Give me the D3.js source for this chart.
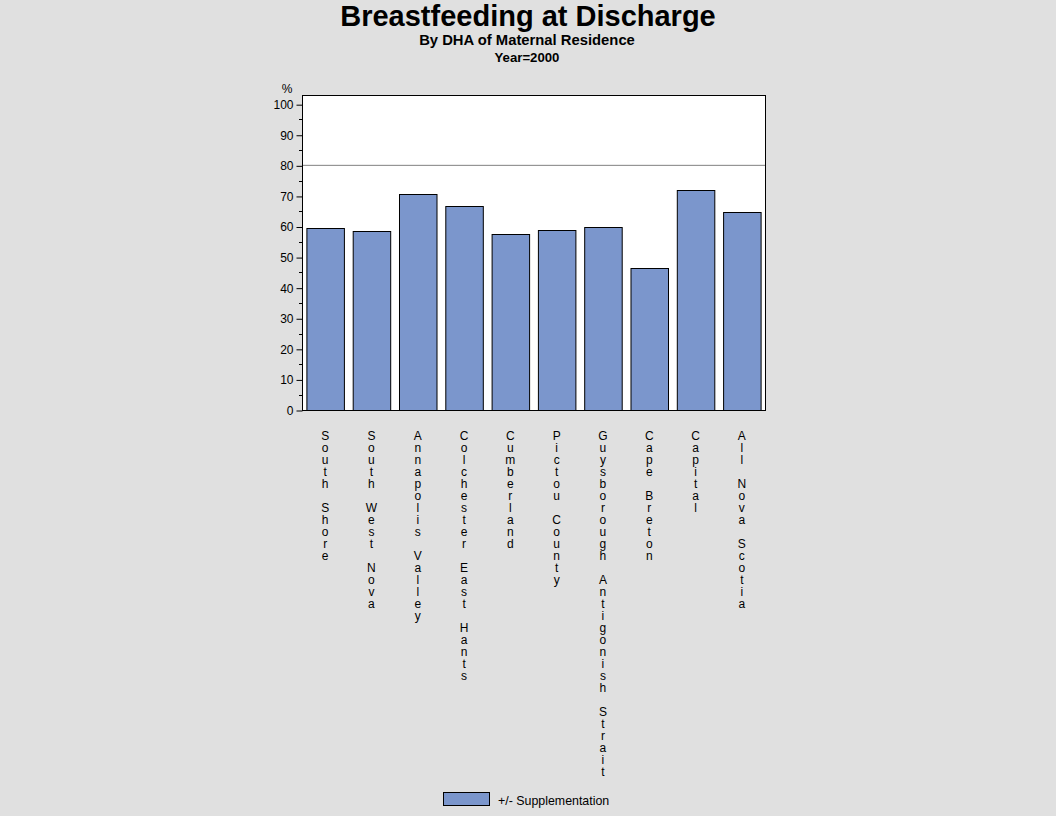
<!DOCTYPE html>
<html>
<head>
<meta charset="utf-8">
<script src="https://cdn.jsdelivr.net/npm/d3@7"></script>
<style>
  body { margin: 0; background: #e0e0e0; }
  svg { display: block; font-family: "Liberation Sans", Arial, sans-serif; }
</style>
</head>
<body>
<div id="chart"></div>
<script>
// Data
const districts = [
    "South Shore", "South West Nova", "Annapolis Valley", "Colchester East Hants",
    "Cumberland", "Pictou County", "Guysborough Antigonish Strait", "Cape Breton",
    "Capital", "All Nova Scotia"
];
const percents = [59.4, 58.4, 70.5, 66.6, 57.7, 58.7, 59.7, 46.4, 72.1, 64.9];
const yTicks = [0, 10, 20, 30, 40, 50, 60, 70, 80, 90, 100];
const targetLine = 80;
const legendLabel = "+/- Supplementation";

const width = 1056, height = 816;
const barColor = "#7b96cc";

const svg = d3.select("#chart")
    .append("svg")
    .attr("width", width)
    .attr("height", height);

svg.append("rect")
    .attr("width", width)
    .attr("height", height)
    .attr("fill", "#e0e0e0");

// Titles
svg.append("text")
    .attr("x", 528).attr("y", 26)
    .attr("text-anchor", "middle")
    .attr("font-size", 29).attr("font-weight", "bold")
    .text("Breastfeeding at Discharge");
svg.append("text")
    .attr("x", 527).attr("y", 45)
    .attr("text-anchor", "middle")
    .attr("font-size", 14.8).attr("font-weight", "bold")
    .text("By DHA of Maternal Residence");
svg.append("text")
    .attr("x", 527).attr("y", 62)
    .attr("text-anchor", "middle")
    .attr("font-size", 13.2).attr("font-weight", "bold")
    .text("Year=2000");

// Plot area
const plot = { left: 302, right: 765, top: 95, bottom: 410 };

const x = d3.scaleBand()
    .domain(districts)
    .range([plot.left, plot.right])
    .paddingInner(0.19)
    .paddingOuter(0.095);

const y = d3.scaleLinear()
    .domain([0, 103])
    .range([plot.bottom, plot.top]);

svg.append("rect")
    .attr("x", plot.left).attr("y", plot.top)
    .attr("width", plot.right - plot.left)
    .attr("height", plot.bottom - plot.top)
    .attr("fill", "#ffffff");

// Reference line
svg.append("line")
    .attr("x1", plot.left).attr("x2", plot.right)
    .attr("y1", y(targetLine)).attr("y2", y(targetLine))
    .attr("stroke", "#808080").attr("stroke-width", 1);

// Bars
svg.append("g")
    .selectAll("rect")
    .data(districts)
    .join("rect")
    .attr("x", d => x(d) + 0.5)
    .attr("y", (d, i) => Math.round(y(percents[i])) + 0.5)
    .attr("width", x.bandwidth())
    .attr("height", (d, i) => plot.bottom - Math.round(y(percents[i])))
    .attr("fill", barColor)
    .attr("stroke", "#000")
    .attr("stroke-width", 1);

// Frame
svg.append("rect")
    .attr("x", plot.left + 0.5).attr("y", plot.top + 0.5)
    .attr("width", plot.right - plot.left)
    .attr("height", plot.bottom - plot.top)
    .attr("fill", "none")
    .attr("stroke", "#000");

// Y axis: major ticks
const yAxis = d3.axisLeft(y)
    .tickValues(yTicks)
    .tickSize(6)
    .tickPadding(3)
    .tickSizeOuter(0);
const yg = svg.append("g")
    .attr("transform", `translate(${plot.left + 0.5},0.5)`)
    .call(yAxis);
yg.select(".domain").remove();
yg.selectAll("text")
    .attr("font-size", 12)
    .attr("font-family", "Liberation Sans, Arial, sans-serif")
    .attr("fill", "#000");

// minor ticks
svg.append("g")
    .selectAll("line")
    .data(d3.range(5, 100, 10))
    .join("line")
    .attr("x1", plot.left - 3).attr("x2", plot.left)
    .attr("y1", d => Math.round(y(d)) + 0.5)
    .attr("y2", d => Math.round(y(d)) + 0.5)
    .attr("stroke", "#000");

svg.append("text")
    .attr("x", 287).attr("y", 93)
    .attr("text-anchor", "middle")
    .attr("font-size", 12)
    .text("%");

// X labels: one character per line
const lineH = 12;
districts.forEach(name => {
    const t = svg.append("text")
        .attr("text-anchor", "middle")
        .attr("font-size", 12)
        .attr("fill", "#000");
    name.split("").forEach((ch, i) => {
        t.append("tspan")
            .attr("x", x(name) + x.bandwidth() / 2)
            .attr("y", 440 + i * lineH)
            .text(ch === " " ? "\u00a0" : ch);
    });
});

// Legend
svg.append("rect")
    .attr("x", 443.5).attr("y", 792.5)
    .attr("width", 46).attr("height", 13)
    .attr("fill", barColor)
    .attr("stroke", "#000");
svg.append("text")
    .attr("x", 498).attr("y", 805)
    .attr("font-size", 12.4)
    .text(legendLabel);
</script>
</body>
</html>
